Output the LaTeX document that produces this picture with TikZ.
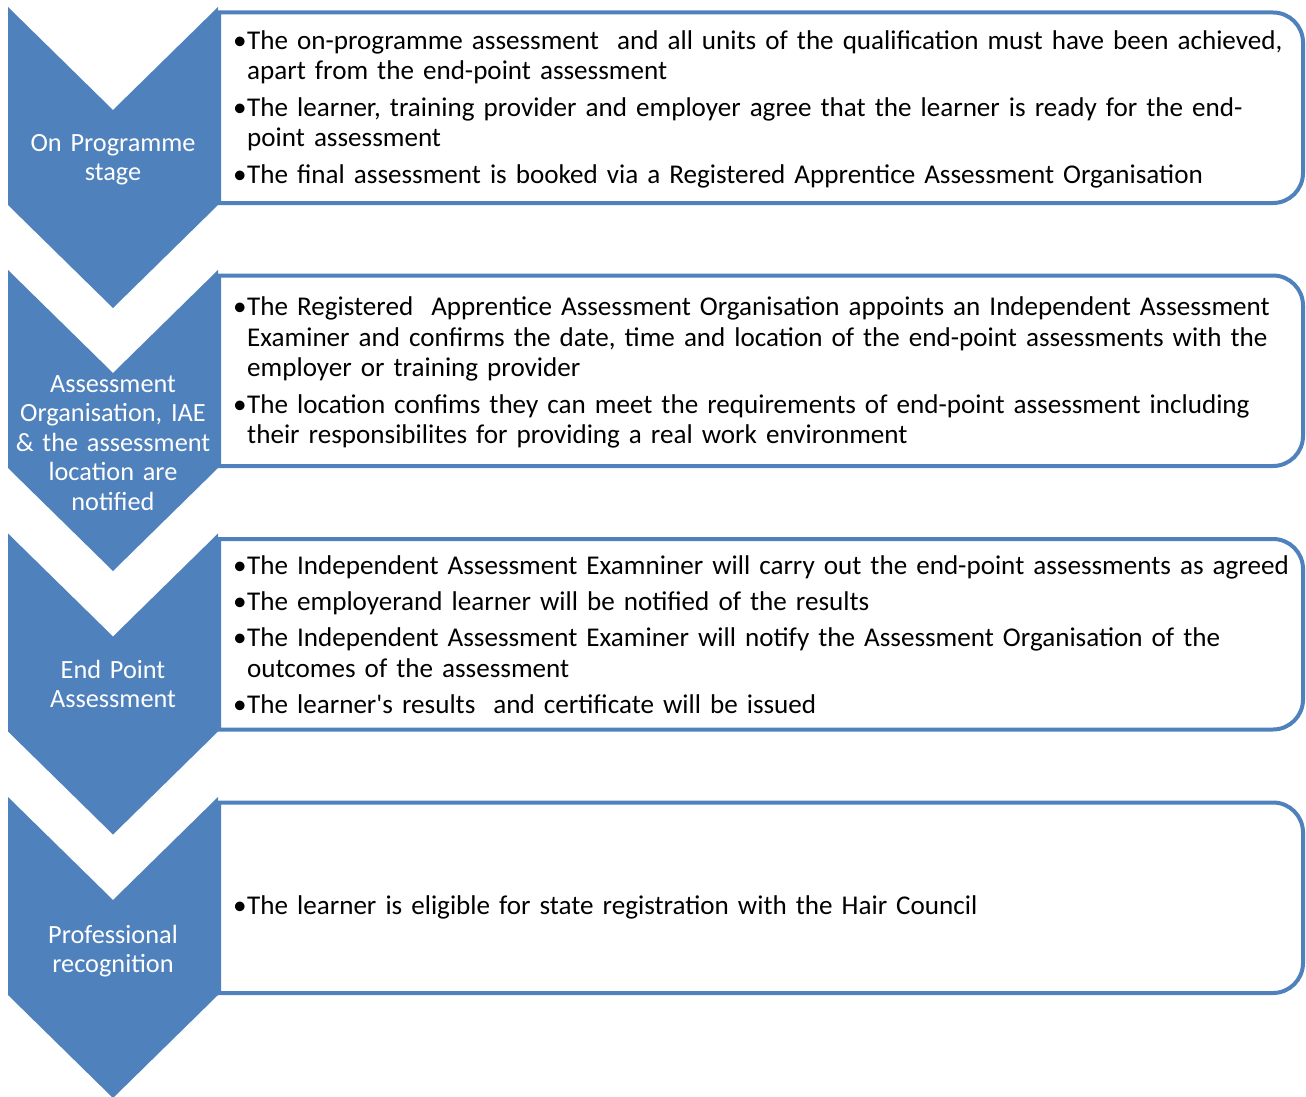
\documentclass[tikz,border=0pt]{standalone}
\usepackage{fontspec}
\setmainfont{Carlito}[Ligatures=TeXOff]
\definecolor{accent}{RGB}{79,129,189}
\newcommand\bul[1]{\hangindent=14pt\hangafter=1\noindent\makebox[14pt][l]{•}#1\par}
\tikzset{
  chev/.style={fill=accent, draw=none},
  panel/.style={draw=accent, line width=4pt, fill=white},
  chevtext/.style={text=white, inner sep=0pt, text width=210pt, align=center,
    font=\fontsize{26.3}{29.4}\selectfont, anchor=base},
  boxtext/.style={text=black, inner sep=0pt, text width=1070pt, align=left,
    font=\fontsize{27.1}{30.7}\selectfont\setlength{\parskip}{5.6pt}, anchor=base west}
}
\begin{document}
\begin{tikzpicture}[x=1pt, y=-1pt]
\useasboundingbox (0,0) rectangle (1306,1097);
% panels
\draw[panel] (219,12.5) -- (1273,12.5) arc[start angle=-90,end angle=0,radius=30] -- (1303,173) arc[start angle=0,end angle=90,radius=30] -- (219,203) -- cycle;
\draw[panel] (219,275.5) -- (1273,275.5) arc[start angle=-90,end angle=0,radius=30] -- (1303,436) arc[start angle=0,end angle=90,radius=30] -- (219,466) -- cycle;
\draw[panel] (219,539) -- (1273,539) arc[start angle=-90,end angle=0,radius=30] -- (1303,699.5) arc[start angle=0,end angle=90,radius=30] -- (219,729.5) -- cycle;
\draw[panel] (219,802.5) -- (1273,802.5) arc[start angle=-90,end angle=0,radius=30] -- (1303,963) arc[start angle=0,end angle=90,radius=30] -- (219,993) -- cycle;
% chevrons
\fill[chev] (8,7) -- (113,110) -- (218,7) -- (218,205) -- (113,308) -- (8,205) -- cycle;
\fill[chev] (8,270) -- (113,373) -- (218,270) -- (218,468) -- (113,571) -- (8,468) -- cycle;
\fill[chev] (8,533.5) -- (113,636.5) -- (218,533.5) -- (218,731.5) -- (113,834.5) -- (8,731.5) -- cycle;
\fill[chev] (8,797) -- (113,900) -- (218,797) -- (218,995) -- (113,1098) -- (8,995) -- cycle;
% chevron labels
\node[chevtext] (c1) at (113,151.5) {On Programme\\stage};
\node[chevtext] (c2) at (113,392.5) {Assessment\\Organisation, IAE\\\& the assessment\\location are\\notified};
\node[chevtext] (c3) at (113,678.5) {End Point\\Assessment};
\node[chevtext] (c4) at (113,943.5) {Professional\\recognition};
% panel texts
\node[boxtext] (t1) at (233,49.3) {%
\bul{The on-programme assessment~ and all units of the qualification must have been achieved,\newline apart from the end-point assessment}%
\bul{The learner, training provider and employer agree that the learner is ready for the end-\newline point assessment}%
\bul{The final assessment is booked via a Registered Apprentice Assessment Organisation}};
\node[boxtext] (t2) at (233,315.3) {%
\bul{The Registered~ Apprentice Assessment Organisation appoints an Independent Assessment\newline Examiner and confirms the date, time and location of the end-point assessments with the\newline employer or training provider}%
\bul{The location confims they can meet the requirements of end-point assessment including\newline their responsibilites for providing a real work environment}};
\node[boxtext] (t3) at (233,574.3) {%
\bul{The Independent Assessment Examniner will carry out the end-point assessments as agreed}%
\bul{The employerand learner will be notified of the results}%
\bul{The Independent Assessment Examiner will notify the Assessment Organisation of the\newline outcomes of the assessment}%
\bul{The learner's results~ and certificate will be issued}};
\node[boxtext] (t4) at (233,914) {%
\bul{The learner is eligible for state registration with the Hair Council}};
\end{tikzpicture}
\end{document}
